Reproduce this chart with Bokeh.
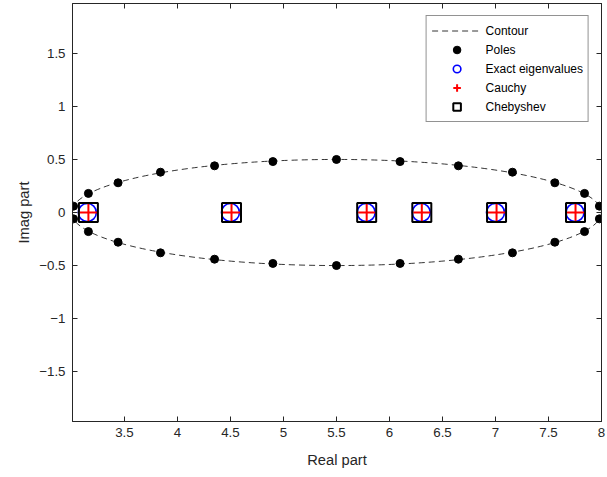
from bokeh.plotting import figure
from bokeh.models import (Range1d, FixedTicker, LinearAxis, Legend, LegendItem)
from bokeh.embed import file_html
from bokeh.resources import INLINE

# Contour (ellipse): centre, full width, full height
contour_cx = [5.5]
contour_cy = [0.0]
contour_w = [5.0]
contour_h = [1.0]

# Poles
pole_x = [3.02, 3.16, 3.44, 3.84, 4.35, 4.90, 5.50, 6.10, 6.65, 7.16, 7.56, 7.84, 7.98,
          3.02, 3.16, 3.44, 3.84, 4.35, 4.90, 5.50, 6.10, 6.65, 7.16, 7.56, 7.84, 7.98]
pole_y = [0.06, 0.18, 0.28, 0.38, 0.44, 0.48, 0.50, 0.48, 0.44, 0.38, 0.28, 0.18, 0.06,
          -0.06, -0.18, -0.28, -0.38, -0.44, -0.48, -0.50, -0.48, -0.44, -0.38, -0.28, -0.18, -0.06]

# Eigenvalues
exact_x = [3.15, 4.50, 5.78, 6.30, 7.00, 7.75]
exact_y = [0, 0, 0, 0, 0, 0]
cauchy_x = [3.16, 4.51, 5.785, 6.305, 7.01, 7.755]
cauchy_y = [0, 0, 0, 0, 0, 0]
cheb_x = [3.16, 4.51, 5.785, 6.305, 7.01, 7.755]
cheb_y = [0, 0, 0, 0, 0, 0]

x_ticks = [3.5, 4, 4.5, 5, 5.5, 6, 6.5, 7, 7.5, 8]
y_ticks = [-1.5, -1, -0.5, 0, 0.5, 1, 1.5]

AX = "#262626"
FONT = "Liberation Sans"

p = figure(width=607, height=477, output_backend="svg", toolbar_location=None,
           x_range=Range1d(3.01, 8.0), y_range=Range1d(-1.97, 1.97),
           min_border_left=72, min_border_right=6, min_border_top=3, min_border_bottom=56)
p.xgrid.visible = False
p.ygrid.visible = False
p.outline_line_color = AX
p.outline_line_width = 1
p.background_fill_color = "white"
p.border_fill_color = "white"

for ax, ticks in ((p.xaxis[0], x_ticks), (p.yaxis[0], y_ticks)):
    ax.ticker = FixedTicker(ticks=ticks)
    ax.major_tick_in = 5
    ax.major_tick_out = 0
    ax.minor_tick_line_color = None
    ax.axis_line_color = AX
    ax.major_tick_line_color = AX
    ax.major_label_text_color = AX
    ax.major_label_text_font = FONT
    ax.major_label_text_font_size = "13.3px"
    ax.axis_label_text_font = FONT
    ax.axis_label_text_font_size = "14.7px"
    ax.axis_label_text_font_style = "normal"
    ax.axis_label_text_color = AX
p.xaxis[0].axis_label = "Real part"
p.yaxis[0].axis_label = "Imag part"
p.xaxis[0].major_label_standoff = 6
p.yaxis[0].major_label_standoff = 7
p.xaxis[0].axis_label_standoff = 12
p.yaxis[0].axis_label_standoff = 4

for side, ticks in (("right", y_ticks), ("above", x_ticks)):
    a = LinearAxis(ticker=FixedTicker(ticks=ticks), major_tick_in=5, major_tick_out=0,
                   minor_tick_line_color=None, axis_line_color=AX, major_tick_line_color=AX,
                   major_label_text_font_size="0px", major_label_standoff=0)
    a.major_label_text_alpha = 0
    p.add_layout(a, side)

r_contour = p.ellipse(x=contour_cx, y=contour_cy, width=contour_w, height=contour_h,
                      fill_color=None, line_color="black", line_width=0.8, line_dash="6 4")
# single-point line: draws nothing on the plot, only serves as the legend swatch
r_contour_leg = p.line(x=contour_cx, y=contour_cy, line_color="black", line_width=0.8,
                       line_dash="6 4")
r_poles = p.scatter(pole_x, pole_y, marker="circle", size=8, fill_color="black", line_color="black")
r_exact = p.scatter(exact_x, exact_y, marker="circle", size=18, fill_color=None,
                    line_color="blue", line_width=1.6)
r_cauchy = p.scatter(cauchy_x, cauchy_y, marker="cross", size=17, line_color="red", line_width=2)
r_cheb = p.scatter(cheb_x, cheb_y, marker="square", size=19, fill_color=None,
                   line_color="black", line_width=2)

legend = Legend(items=[
    LegendItem(label="Contour", renderers=[r_contour_leg]),
    LegendItem(label="Poles", renderers=[r_poles]),
    LegendItem(label="Exact eigenvalues", renderers=[r_exact]),
    LegendItem(label="Cauchy", renderers=[r_cauchy]),
    LegendItem(label="Chebyshev", renderers=[r_cheb]),
], location="top_right")
legend.margin = 12
legend.padding = 5
legend.spacing = 0
legend.glyph_width = 50
legend.glyph_height = 19
legend.label_height = 19
legend.label_standoff = 4
legend.label_text_font = FONT
legend.label_text_font_size = "12px"
legend.label_text_color = "black"
legend.border_line_color = AX
legend.border_line_width = 1
legend.background_fill_color = "white"
legend.background_fill_alpha = 1
p.add_layout(legend, "center")

open("out.html", "w").write(file_html(p, INLINE))
